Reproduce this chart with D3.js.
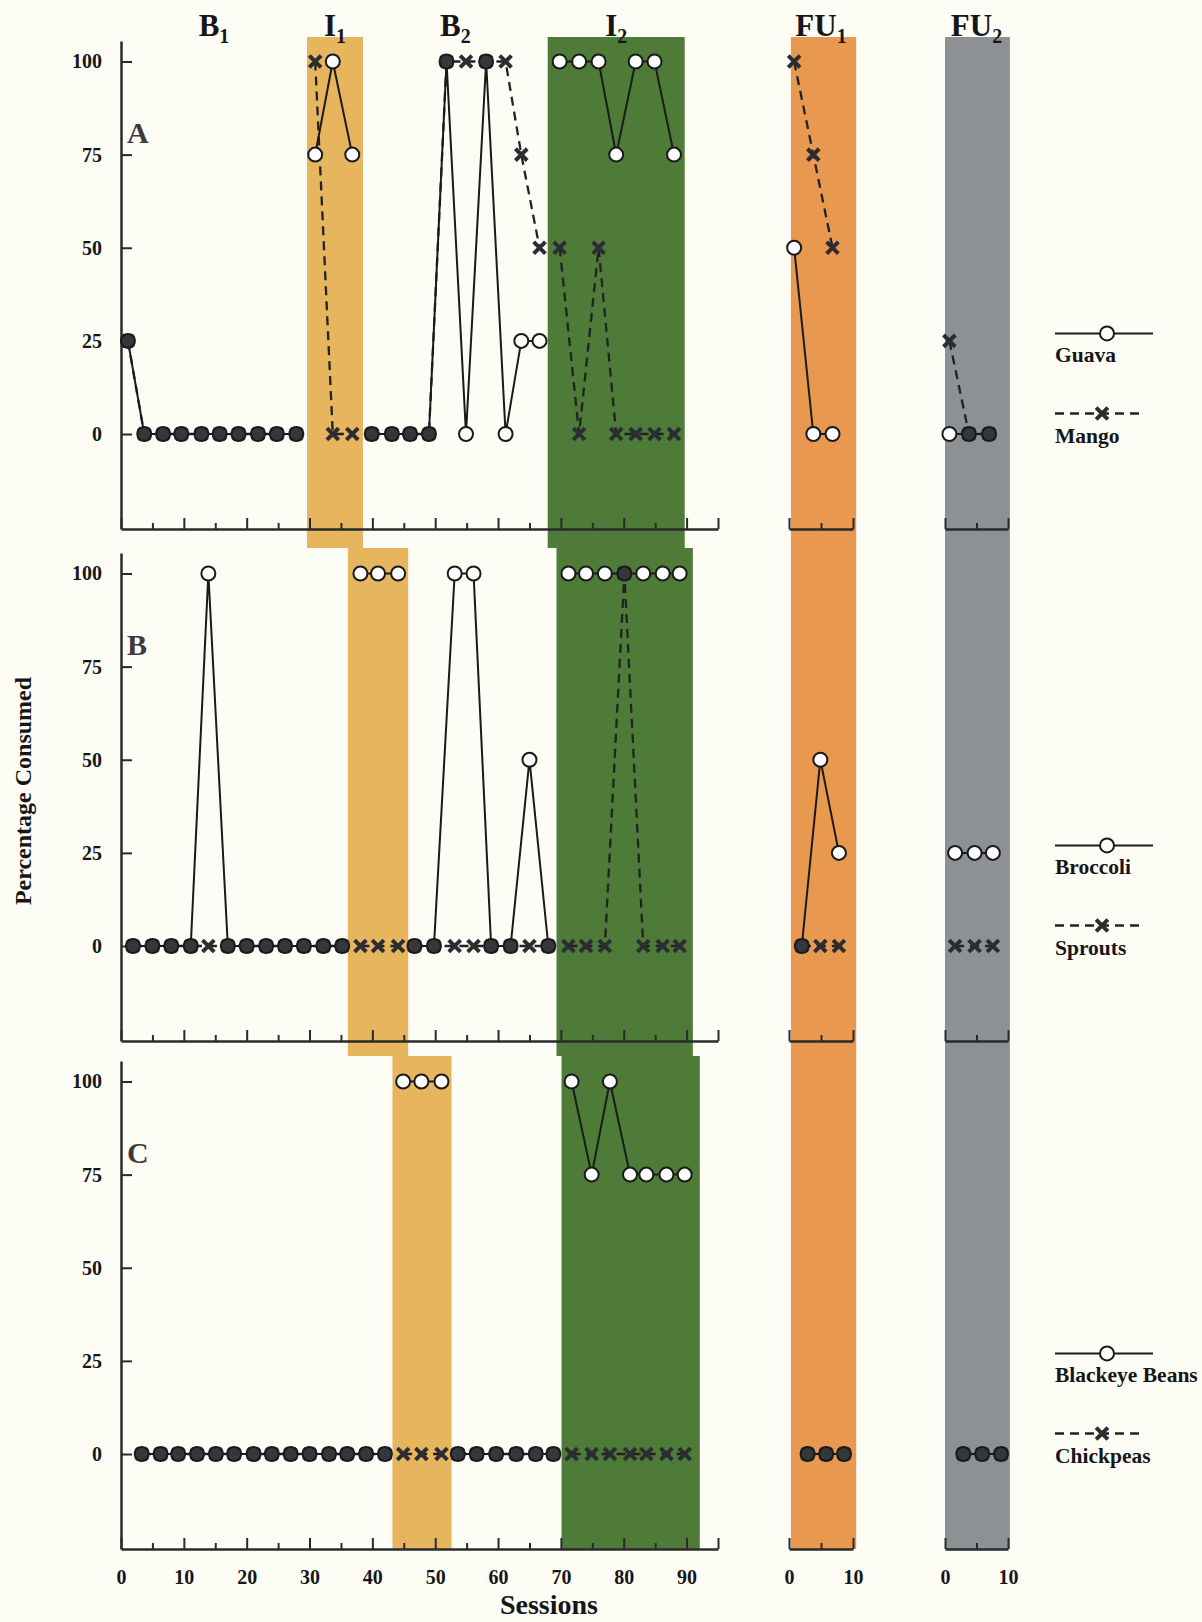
<!DOCTYPE html>
<html>
<head>
<meta charset="utf-8">
<script src="https://cdn.jsdelivr.net/npm/d3@7"></script>
<style>
  body { margin: 0; background: #fdfdf6; }
  svg { display: block; }
  text { font-family: "Liberation Serif", "Times New Roman", serif; font-weight: bold; fill: #161616; }
</style>
</head>
<body>
<div id="chart"></div>
<script>
// phases in order; FU phases are plotted on their own 0-10 session axes
const phases = ['B1', 'I1', 'B2', 'I2', 'FU1', 'FU2'];

// Panel A - Guava / Mango (points per phase, then sessions and values)
const countsA = [10, 3, 10, 7, 3, 3];
const sessionsA = [1.1, 3.7, 6.7, 9.6, 12.8, 15.7, 18.7, 21.8, 24.8, 27.9,
    30.9, 33.7, 36.8,
    39.9, 43.1, 46.0, 49.0, 51.8, 54.9, 58.1, 61.2, 63.7, 66.6,
    69.8, 72.9, 76.0, 78.8, 81.9, 84.9, 88.0,
    0.8, 3.8, 6.8,
    0.7, 3.8, 7.0];
const guava = [25, 0, 0, 0, 0, 0, 0, 0, 0, 0,
    75, 100, 75,
    0, 0, 0, 0, 100, 0, 100, 0, 25, 25,
    100, 100, 100, 75, 100, 100, 75,
    50, 0, 0,
    0, 0, 0];
const mango = [25, 0, 0, 0, 0, 0, 0, 0, 0, 0,
    100, 0, 0,
    0, 0, 0, 0, 100, 100, 100, 100, 75, 50,
    50, 0, 50, 0, 0, 0, 0,
    100, 75, 50,
    25, 0, 0];

// Panel B - Broccoli / Sprouts
const countsB = [12, 3, 8, 7, 3, 3];
const sessionsB = [1.9, 5.0, 8.0, 11.1, 13.9, 17.0, 20.0, 23.1, 26.1, 29.1, 32.2, 35.2,
    38.1, 40.9, 44.1,
    46.7, 49.8, 53.1, 56.1, 58.9, 62.0, 65.0, 68.0,
    71.2, 74.0, 77.0, 80.1, 83.1, 86.2, 88.9,
    2.0, 4.9, 7.8,
    1.6, 4.7, 7.6];
const broccoli = [0, 0, 0, 0, 100, 0, 0, 0, 0, 0, 0, 0,
    100, 100, 100,
    0, 0, 100, 100, 0, 0, 50, 0,
    100, 100, 100, 100, 100, 100, 100,
    0, 50, 25,
    25, 25, 25];
const sprouts = [0, 0, 0, 0, 0, 0, 0, 0, 0, 0, 0, 0,
    0, 0, 0,
    0, 0, 0, 0, 0, 0, 0, 0,
    0, 0, 0, 100, 0, 0, 0,
    0, 0, 0,
    0, 0, 0];

// Panel C - Blackeye Beans / Chickpeas
const countsC = [14, 3, 6, 7, 3, 3];
const sessionsC = [3.3, 6.3, 9.1, 12.1, 15.1, 18.0, 21.1, 24.0, 27.0, 30.0, 33.1, 36.0, 39.0, 42.0,
    44.9, 47.8, 51.0,
    53.6, 56.6, 59.7, 62.9, 66.0, 68.8,
    71.7, 74.9, 77.8, 81.0, 83.6, 86.8, 89.7,
    2.9, 5.8, 8.6,
    2.9, 5.9, 8.9];
const beans = [0, 0, 0, 0, 0, 0, 0, 0, 0, 0, 0, 0, 0, 0,
    100, 100, 100,
    0, 0, 0, 0, 0, 0,
    100, 75, 100, 75, 75, 75, 75,
    0, 0, 0,
    0, 0, 0];
const chickpeas = [0, 0, 0, 0, 0, 0, 0, 0, 0, 0, 0, 0, 0, 0,
    0, 0, 0,
    0, 0, 0, 0, 0, 0,
    0, 0, 0, 0, 0, 0, 0,
    0, 0, 0,
    0, 0, 0];

// shaded intervention / follow-up spans (in sessions)
const bandI1 = [[29.6, 38.5], [36.1, 45.7], [43.2, 52.6]];
const bandI2 = [[67.9, 89.7], [69.3, 91.0], [70.1, 92.1]];
const bandFU1 = [0.3, 10.5];
const bandFU2 = [0, 10.3];

const yTicks = [0, 25, 50, 75, 100];

const colors = { I1: '#e6b55e', I2: '#4f7b39', FU1: '#e8984f', FU2: '#8d9196' };

const W = 1202, H = 1622;
const panelTops = [41, 553, 1061];
const panelH = 488;

const svg = d3.select('#chart').append('svg').attr('width', W).attr('height', H);
svg.append('rect').attr('width', W).attr('height', H).attr('fill', '#fdfdf6');

const xMain = d3.scaleLinear().domain([0, 95]).range([121, 718]);
const xFU1 = d3.scaleLinear().domain([0, 10]).range([789, 853]);
const xFU2 = d3.scaleLinear().domain([0, 10]).range([945, 1008]);
const xFor = { B1: xMain, I1: xMain, B2: xMain, I2: xMain, FU1: xFU1, FU2: xFU2 };

const panels = [
    { letter: 'A', counts: countsA, sessions: sessionsA, s1: guava, s2: mango, names: ['Guava', 'Mango'] },
    { letter: 'B', counts: countsB, sessions: sessionsB, s1: broccoli, s2: sprouts, names: ['Broccoli', 'Sprouts'] },
    { letter: 'C', counts: countsC, sessions: sessionsC, s1: beans, s2: chickpeas, names: ['Blackeye Beans', 'Chickpeas'] }
];

const yScales = panelTops.map(t => d3.scaleLinear().domain([-25.5, 105.5]).range([t + panelH, t]));

// Bands first, they run under neighbouring panels
const bandLayer = svg.append('g');
panels.forEach((p, i) => {
    const top = i === 0 ? panelTops[0] - 4 : panelTops[i] - 5;
    const bottom = i < 2 ? panelTops[i + 1] - 5 : panelTops[i] + panelH;
    [['I1', bandI1[i]], ['I2', bandI2[i]]].forEach(([ph, b]) => {
        bandLayer.append('rect')
            .attr('x', xMain(b[0]))
            .attr('width', xMain(b[1]) - xMain(b[0]))
            .attr('y', top)
            .attr('height', bottom - top)
            .attr('fill', colors[ph]);
    });
});
[['FU1', xFU1, bandFU1], ['FU2', xFU2, bandFU2]].forEach(([ph, x, b]) => {
    bandLayer.append('rect')
        .attr('x', x(b[0]))
        .attr('width', x(b[1]) - x(b[0]))
        .attr('y', panelTops[0] - 4)
        .attr('height', panelTops[2] + panelH - panelTops[0] + 4)
        .attr('fill', colors[ph]);
});

const timesSym = d3.symbol(d3.symbolTimes || d3.symbolCross, 92);

function styleAxis(g) {
    g.attr('font-family', '"Liberation Serif", "Times New Roman", serif')
        .attr('font-size', 20)
        .attr('font-weight', 'bold');
    g.selectAll('path.domain').attr('stroke', '#2a2a2a').attr('stroke-width', 2.5);
    g.selectAll('.tick line').attr('stroke', '#2a2a2a').attr('stroke-width', 2);
    g.selectAll('.tick text').attr('fill', '#111');
}

panels.forEach((p, i) => {
    const y = yScales[i];
    const g = svg.append('g');
    const last = i === 2;

    // y axis
    g.append('g')
        .attr('transform', `translate(${xMain(0)},0)`)
        .call(d3.axisLeft(y).tickValues(yTicks).tickSizeInner(-11).tickSizeOuter(0).tickPadding(19))
        .call(styleAxis);

    // x axes
    const bottom = panelTops[i] + panelH;
    g.append('g')
        .attr('transform', `translate(0,${bottom})`)
        .call(d3.axisBottom(xMain).tickValues(d3.range(0, 96, 5)).tickSizeInner(-6).tickSizeOuter(0).tickPadding(21)
            .tickFormat(d => (last && d % 10 === 0) ? d : ''))
        .call(styleAxis)
        .call(a => a.selectAll('.tick line').attr('y2', d => (d % 10 === 0 || d === 95) ? -11 : -6));
    [xFU1, xFU2].forEach(x => {
        g.append('g')
            .attr('transform', `translate(0,${bottom})`)
            .call(d3.axisBottom(x).tickValues([0, 5, 10]).tickSizeInner(-6).tickSizeOuter(0).tickPadding(21)
                .tickFormat(d => (last && d !== 5) ? d : ''))
            .call(styleAxis)
            .call(a => a.selectAll('.tick line').attr('y2', d => d === 5 ? -6 : -11));
    });

    // panel letter
    g.append('text')
        .attr('x', 127).attr('y', y(78))
        .attr('font-size', 30)
        .style('fill', '#3b3b3b')
        .text(p.letter);

    // rows
    const rows = [];
    let k = 0;
    p.counts.forEach((c, pi) => {
        for (let j = 0; j < c; j++) {
            rows.push({ phase: phases[pi], s: p.sessions[k], a: p.s1[k], b: p.s2[k] });
            k++;
        }
    });

    // lines, broken at phase changes
    d3.groups(rows, d => d.phase).forEach(([ph, pts]) => {
        const x = xFor[ph];
        g.append('path')
            .datum(pts)
            .attr('d', d3.line().x(d => x(d.s)).y(d => y(d.b)))
            .attr('fill', 'none')
            .attr('stroke', '#222')
            .attr('stroke-width', 2.3)
            .attr('stroke-dasharray', '9,6');
        g.append('path')
            .datum(pts)
            .attr('d', d3.line().x(d => x(d.s)).y(d => y(d.a)))
            .attr('fill', 'none')
            .attr('stroke', '#1a1a1a')
            .attr('stroke-width', 2);
    });

    // x markers (second food)
    g.selectAll('path.xm')
        .data(rows)
        .enter()
        .append('path')
        .attr('class', 'xm')
        .attr('d', timesSym)
        .attr('transform', d => `translate(${xFor[d.phase](d.s)},${y(d.b)})`)
        .attr('fill', 'none')
        .attr('stroke', '#2b2d33')
        .attr('stroke-width', 4);

    // circles (first food), filled where both coincide
    g.selectAll('circle.cm')
        .data(rows)
        .enter()
        .append('circle')
        .attr('class', 'cm')
        .attr('cx', d => xFor[d.phase](d.s))
        .attr('cy', d => y(d.a))
        .attr('r', 7)
        .attr('fill', d => d.a === d.b ? '#35373b' : '#fff')
        .attr('stroke', '#1a1a1a')
        .attr('stroke-width', 2);

    // legend
    const lx1 = 1055, lx2 = 1153, lm = 1107;
    const ya = y(27), yb = y(5.5);
    g.append('line').attr('x1', lx1).attr('x2', lx2).attr('y1', ya).attr('y2', ya)
        .attr('stroke', '#1a1a1a').attr('stroke-width', 2);
    g.append('circle').attr('cx', lm).attr('cy', ya).attr('r', 7)
        .attr('fill', '#fff').attr('stroke', '#1a1a1a').attr('stroke-width', 2);
    g.append('text').attr('x', lx1).attr('y', ya + 29).attr('font-size', 21.5).text(p.names[0]);
    g.append('line').attr('x1', lx1).attr('x2', lx2 - 8).attr('y1', yb).attr('y2', yb)
        .attr('stroke', '#222').attr('stroke-width', 2.3).attr('stroke-dasharray', '9,6');
    g.append('path').attr('d', timesSym)
        .attr('transform', `translate(${lm - 5},${yb})`)
        .attr('fill', 'none').attr('stroke', '#2b2d33').attr('stroke-width', 4);
    g.append('text').attr('x', lx1).attr('y', yb + 29).attr('font-size', 21.5).text(p.names[1]);
});

// phase labels along the top
const labelPos = [
    ['B', '1', xMain((0 + bandI1[0][0]) / 2)],
    ['I', '1', xMain((bandI1[0][0] + bandI1[0][1]) / 2)],
    ['B', '2', xMain((bandI1[0][1] + bandI2[0][0]) / 2)],
    ['I', '2', xMain((bandI2[0][0] + bandI2[0][1]) / 2)],
    ['FU', '1', xFU1(5)],
    ['FU', '2', xFU2(5)]
];
labelPos.forEach(([main, sub, x]) => {
    const t = svg.append('text')
        .attr('x', x).attr('y', 36)
        .attr('text-anchor', 'middle')
        .attr('font-size', 31);
    t.append('tspan').text(main);
    t.append('tspan').attr('font-size', 20).attr('dy', 7).text(sub);
});

// axis titles
svg.append('text')
    .attr('x', 549).attr('y', 1614)
    .attr('text-anchor', 'middle')
    .attr('font-size', 28)
    .text('Sessions');

svg.append('text')
    .attr('transform', 'translate(31,791) rotate(-90)')
    .attr('text-anchor', 'middle')
    .attr('font-size', 24)
    .text('Percentage Consumed');
</script>
</body>
</html>
